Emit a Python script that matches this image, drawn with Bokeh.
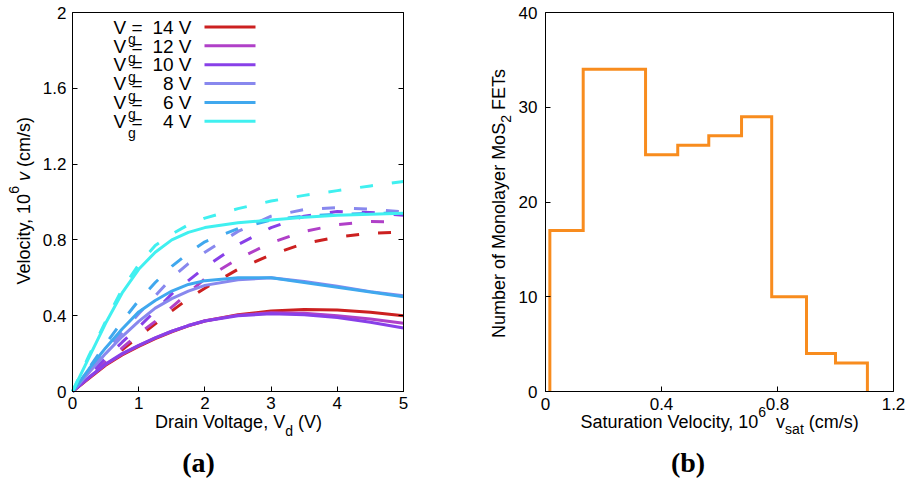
import math
from bokeh.plotting import figure
from bokeh.layouts import row
from bokeh.models import (Range1d, FixedTicker, CustomJSTickFormatter, LinearAxis,
                          Label, BoxAnnotation)
from bokeh.embed import file_html
from bokeh.resources import INLINE

# ---------------- data ----------------
vd = [0, 0.25, 0.5, 0.75, 1, 1.25, 1.5, 1.75, 2, 2.5, 3, 3.5, 4, 4.5, 5]
vg_labels = ["14", "12", "10", "8", "6", "4"]
vg_colors = ["#cc2020", "#b040c8", "#8840e8", "#8888ee", "#40a8ee", "#40f0f0"]

model_14 = [0, 0.07, 0.138, 0.193, 0.238, 0.279, 0.315, 0.346, 0.372, 0.405, 0.425, 0.433, 0.43, 0.418, 0.40]
model_12 = [0, 0.073, 0.142, 0.197, 0.242, 0.283, 0.318, 0.348, 0.373, 0.403, 0.415, 0.413, 0.40, 0.383, 0.36]
model_10 = [0, 0.075, 0.145, 0.20, 0.243, 0.283, 0.318, 0.348, 0.372, 0.40, 0.41, 0.405, 0.39, 0.365, 0.335]
model_8 = [0, 0.10, 0.20, 0.29, 0.37, 0.44, 0.49, 0.53, 0.56, 0.59, 0.60, 0.58, 0.555, 0.527, 0.505]
model_6 = [0, 0.12, 0.23, 0.33, 0.42, 0.48, 0.53, 0.565, 0.585, 0.60, 0.60, 0.575, 0.55, 0.525, 0.50]
model_4 = [0, 0.18, 0.36, 0.52, 0.645, 0.735, 0.80, 0.84, 0.865, 0.89, 0.905, 0.92, 0.93, 0.935, 0.94]

meas_14 = [0, 0.075, 0.15, 0.22, 0.29, 0.357, 0.425, 0.49, 0.545, 0.645, 0.722, 0.781, 0.815, 0.835, 0.842]
meas_12 = [0, 0.08, 0.155, 0.23, 0.305, 0.37, 0.445, 0.52, 0.595, 0.70, 0.785, 0.845, 0.88, 0.897, 0.895]
meas_10 = [0, 0.09, 0.175, 0.26, 0.34, 0.425, 0.515, 0.585, 0.655, 0.775, 0.865, 0.925, 0.95, 0.945, 0.93]
meas_8 = [0, 0.105, 0.21, 0.31, 0.41, 0.505, 0.60, 0.675, 0.735, 0.845, 0.925, 0.96, 0.97, 0.962, 0.948]
meas_6 = [0, 0.125, 0.25, 0.37, 0.48, 0.575, 0.66, 0.73, 0.79, 0.86, 0.905, 0.925, 0.935, 0.94, 0.94]
meas_4 = [0, 0.19, 0.37, 0.54, 0.67, 0.77, 0.83, 0.88, 0.915, 0.965, 1.005, 1.035, 1.06, 1.085, 1.108]

model_curves = [model_14, model_12, model_10, model_8, model_6, model_4]
meas_curves = [meas_14, meas_12, meas_10, meas_8, meas_6, meas_4]

left_xlim = (0, 5)
left_ylim = (0, 2)
left_xticks = [0, 1, 2, 3, 4, 5]
left_yticks = [0, 0.4, 0.8, 1.2, 1.6, 2]

hist_edges = [0.015, 0.13, 0.345, 0.456, 0.563, 0.676, 0.78, 0.90, 1.0, 1.11]
hist_counts = [17, 34, 25, 26, 27, 29, 10, 4, 3]
right_xlim = (0, 1.2)
right_ylim = (0, 40)
right_xticks = [0, 0.4, 0.8, 1.2]
right_yticks = [0, 10, 20, 30, 40]
hist_color = "#f88c1e"

# ---------------- layout constants (image pixels) ----------------
FONT = "Liberation Sans"
SERIF = "Liberation Serif"
H = 481
W_L, W_R = 454, 454
L_BOX = (72, 403, 12, 391)     # left, right, top, bottom of the data box
R_BOX = (545, 893, 12, 391)
MID = 0.345                    # baseline -> visual middle, in em

AW = {' ': 278, ',': 278, '.': 278, '/': 278, '(': 333, ')': 333, '=': 584,
      'D': 722, 'E': 667, 'F': 611, 'M': 833, 'N': 722, 'S': 667, 'T': 611, 'V': 667,
      'a': 556, 'b': 556, 'c': 500, 'd': 556, 'e': 556, 'f': 278, 'g': 556, 'i': 222,
      'l': 222, 'm': 833, 'n': 556, 'o': 556, 'r': 333, 's': 500, 't': 278, 'u': 556,
      'v': 500, 'y': 500}


def tw(text, size):
    return sum(AW.get(ch, 556) for ch in text) * size / 1000.0


def make_map(box, xlim, ylim, origin, width):
    x0, x1, yt, yb = box
    sx = (x1 - x0) / (xlim[1] - xlim[0])
    sy = (yb - yt) / (ylim[1] - ylim[0])

    def conv(ix, iy):
        return (xlim[0] + (ix - x0) / sx, ylim[0] + (yb - iy) / sy)

    xr = Range1d(conv(origin, 0)[0], conv(origin + width, 0)[0])
    yr = Range1d(conv(0, H)[1], conv(0, 0)[1])
    return conv, xr, yr


def add_text(p, conv, ix, iy, text, size, font=FONT, style="normal", angle=0.0,
             align="left", color="black"):
    """(ix, iy) is the baseline point of the text; anchor at the visual middle."""
    if angle == 0.0:
        ax_, ay_ = ix, iy - MID * size
    else:
        ax_, ay_ = ix - MID * size, iy
    x, y = conv(ax_, ay_)
    p.add_layout(Label(x=x, y=y, text=text, text_font=font, text_font_size=f"{size}px",
                       text_font_style=style, angle=angle, text_align=align,
                       text_baseline="middle", text_color=color))


def compose_h(p, conv, cx, by, pieces):
    """First piece is right-aligned at the junction, the rest follow it."""
    total = sum(tw(t, s) for t, s, sh, st in pieces)
    x = cx - total / 2
    for k, (t, s, sh, st) in enumerate(pieces):
        if k == 0:
            x += tw(t, s)
            add_text(p, conv, x, by - sh, t.strip(), s, style=st, align="right")
            continue
        lead = t[:len(t) - len(t.lstrip())]
        add_text(p, conv, x + tw(lead, s), by - sh, t.strip(), s, style=st)
        x += tw(t, s)


def compose_v(p, conv, cy, bx, pieces):
    total = sum(tw(t, s) for t, s, sh, st in pieces)
    y = cy + total / 2
    for k, (t, s, sh, st) in enumerate(pieces):
        if k == 0:
            y -= tw(t, s)
            add_text(p, conv, bx - sh, y, t.strip(), s, style=st, angle=math.pi / 2,
                     align="right")
            continue
        lead = t[:len(t) - len(t.lstrip())]
        add_text(p, conv, bx - sh, y - tw(lead, s), t.strip(), s, style=st,
                 angle=math.pi / 2)
        y -= tw(t, s)


fmt = CustomJSTickFormatter(code="return String(Math.round(tick*10)/10)")
blank_fmt = CustomJSTickFormatter(code="return ''")


def style_axis(ax, ticks, loc, bounds, standoff=6):
    ax.ticker = FixedTicker(ticks=ticks)
    ax.formatter = fmt
    ax.fixed_location = loc
    ax.bounds = bounds
    ax.major_tick_in = 5
    ax.major_tick_out = 0
    ax.minor_tick_line_color = None
    ax.axis_line_color = "black"
    ax.major_tick_line_color = "black"
    ax.major_label_text_font = FONT
    ax.major_label_text_font_size = "17px"
    ax.major_label_text_color = "black"
    ax.major_label_standoff = standoff


def base_figure(width, xr, yr):
    p = figure(width=width, height=H, output_backend="svg", toolbar_location=None,
               x_range=xr, y_range=yr, min_border=0)
    p.grid.visible = False
    p.outline_line_color = None
    p.background_fill_color = "white"
    p.border_fill_color = "white"
    return p


# ---------------- left panel ----------------
Lconv, Lxr, Lyr = make_map(L_BOX, left_xlim, left_ylim, 0, W_L)
pL = base_figure(W_L, Lxr, Lyr)
style_axis(pL.xaxis[0], left_xticks, left_ylim[0], left_xlim, standoff=5)
style_axis(pL.yaxis[0], left_yticks, left_xlim[0], left_ylim, standoff=6)
raxis = LinearAxis()
style_axis(raxis, left_yticks, left_xlim[1], left_ylim)
raxis.formatter = blank_fmt
pL.add_layout(raxis, "right")
pL.add_layout(BoxAnnotation(left=left_xlim[0], right=left_xlim[1], bottom=left_ylim[0],
                            top=left_ylim[1], fill_alpha=0, line_color="black",
                            line_width=1, line_alpha=1))

for col, mod, meas in zip(vg_colors, model_curves, meas_curves):
    pL.line(vd, meas, line_color=col, line_width=3, line_dash="13 19", line_cap="butt")
    pL.line(vd, mod, line_color=col, line_width=3, line_join="round")

# legend (text left, sample line right)
for i, (lab, col) in enumerate(zip(vg_labels, vg_colors)):
    by = 33.3 + i * 18.85
    add_text(pL, Lconv, 113, by, "V", 19)
    add_text(pL, Lconv, 127.5, by + 10, "g", 14)
    add_text(pL, Lconv, 131, by, "=", 19)
    add_text(pL, Lconv, 191, by, f"{lab} V", 19, align="right")
    cy = by - 6.8
    x0, y0 = Lconv(204, cy + 1.5)
    x1, y1 = Lconv(255, cy - 1.5)
    pL.add_layout(BoxAnnotation(left=x0, right=x1, bottom=y0, top=y1,
                                fill_color=col, fill_alpha=1.0, line_alpha=0))

compose_h(pL, Lconv, 237.5, 428, [("Drain Voltage, V", 18, 0, "normal"),
                                  ("d", 14, -7, "normal"),
                                  (" (V)", 18, 0, "normal")])
compose_v(pL, Lconv, 201.5, 30, [("Velocity, 10", 18, 0, "normal"),
                                 ("6", 14, 12, "normal"),
                                 (" v", 18, 0, "italic"),
                                 (" (cm/s)", 18, 0, "normal")])
add_text(pL, Lconv, 198, 472, "(a)", 28, font=SERIF, style="bold", align="center")

# ---------------- right panel ----------------
Rconv, Rxr, Ryr = make_map(R_BOX, right_xlim, right_ylim, W_L, W_R)
pR = base_figure(W_R, Rxr, Ryr)
style_axis(pR.xaxis[0], right_xticks, right_ylim[0], right_xlim, standoff=6)
style_axis(pR.yaxis[0], right_yticks, right_xlim[0], right_ylim, standoff=8)
pR.add_layout(BoxAnnotation(left=right_xlim[0], right=right_xlim[1], bottom=right_ylim[0],
                            top=right_ylim[1], fill_alpha=0, line_color="black",
                            line_width=1, line_alpha=1))

hx = [hist_edges[0]]
hy = [0]
for i, c in enumerate(hist_counts):
    hx += [hist_edges[i], hist_edges[i + 1]]
    hy += [c, c]
hx.append(hist_edges[-1])
hy.append(0)
pR.line(hx, hy, line_color=hist_color, line_width=3, line_join="miter")

compose_h(pR, Rconv, 718, 428, [("Saturation Velocity, 10", 18, 0, "normal"),
                                ("6", 14, 12, "normal"),
                                ("  v", 18, 0, "normal"),
                                ("sat", 14, -5, "normal"),
                                (" (cm/s)", 18, 0, "normal")])
compose_v(pR, Rconv, 202, 505, [("Number of Monolayer MoS", 18, 0, "normal"),
                                ("2", 14, -5, "normal"),
                                (" FETs", 18, 0, "normal")])
add_text(pR, Rconv, 687.5, 472, "(b)", 28, font=SERIF, style="bold", align="center")

layout = row(pL, pR)
open("out.html", "w").write(file_html(layout, INLINE))
